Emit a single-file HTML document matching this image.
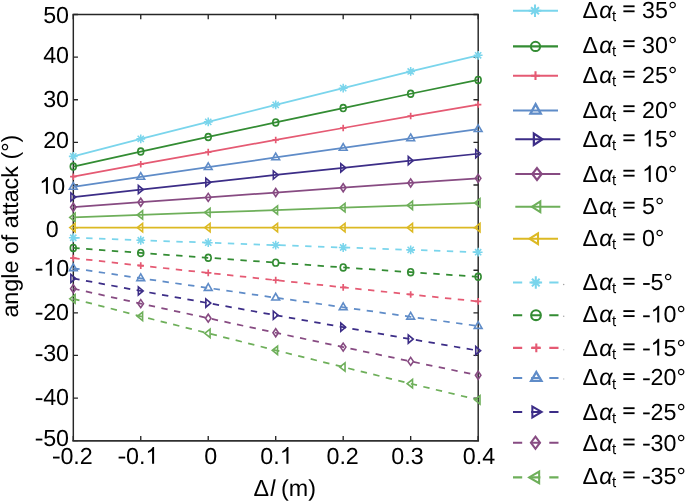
<!DOCTYPE html>
<html><head><meta charset="utf-8"><title>angle of attack</title>
<style>
html,body{margin:0;padding:0;background:#fff;}
body{width:685px;height:502px;overflow:hidden;font-family:"Liberation Sans",sans-serif;}
svg{display:block;will-change:transform;font-kerning:none;text-rendering:geometricPrecision;}
text{font-kerning:none;}
</style></head><body>
<svg width="685" height="502" viewBox="0 0 685 502">
<rect width="685" height="502" fill="#ffffff"/>
<path d="M73.27 440.68V435.98M73.27 14.48V19.18M140.75 440.68V435.98M140.75 14.48V19.18M208.23 440.68V435.98M208.23 14.48V19.18M275.71 440.68V435.98M275.71 14.48V19.18M343.19 440.68V435.98M343.19 14.48V19.18M410.67 440.68V435.98M410.67 14.48V19.18M478.15 440.68V435.98M478.15 14.48V19.18M73.27 14.48H77.97M478.15 14.48H473.45M73.27 57.1H77.97M478.15 57.1H473.45M73.27 99.72H77.97M478.15 99.72H473.45M73.27 142.34H77.97M478.15 142.34H473.45M73.27 184.96H77.97M478.15 184.96H473.45M73.27 227.58H77.97M478.15 227.58H473.45M73.27 270.2H77.97M478.15 270.2H473.45M73.27 312.82H77.97M478.15 312.82H473.45M73.27 355.44H77.97M478.15 355.44H473.45M73.27 398.06H77.97M478.15 398.06H473.45M73.27 440.68H77.97M478.15 440.68H473.45" stroke="#262626" stroke-width="1.35" fill="none"/>
<path d="M73.27 14.55H478.15" stroke="#262626" stroke-width="1.5" fill="none" stroke-linecap="square"/>
<path d="M73.27 440.85H478.15" stroke="#303030" stroke-width="1.8" fill="none" stroke-linecap="square"/>
<path d="M73.32 14.55V440.85" stroke="#262626" stroke-width="1.45" fill="none"/>
<path d="M478.2 14.55V440.85" stroke="#262626" stroke-width="1.45" fill="none"/>
<path d="M73.27 156.35L140.75 138.85L208.23 121.88L275.71 104.87L343.19 88.15L410.67 71.46L478.15 55.3" stroke="#7ad5ec" stroke-width="1.75" fill="none"/>
<path d="M68.87 156.35H77.67M73.27 151.95V160.75M70.17 153.25L76.37 159.45M70.17 159.45L76.37 153.25" stroke="#7ad5ec" stroke-width="1.55" fill="none"/>
<path d="M136.35 138.85H145.15M140.75 134.45V143.25M137.65 135.75L143.85 141.95M137.65 141.95L143.85 135.75" stroke="#7ad5ec" stroke-width="1.55" fill="none"/>
<path d="M203.83 121.88H212.63M208.23 117.48V126.28M205.13 118.78L211.33 124.98M205.13 124.98L211.33 118.78" stroke="#7ad5ec" stroke-width="1.55" fill="none"/>
<path d="M271.31 104.87H280.11M275.71 100.47V109.27M272.61 101.77L278.81 107.97M272.61 107.97L278.81 101.77" stroke="#7ad5ec" stroke-width="1.55" fill="none"/>
<path d="M338.79 88.15H347.59M343.19 83.75V92.55M340.09 85.05L346.29 91.25M340.09 91.25L346.29 85.05" stroke="#7ad5ec" stroke-width="1.55" fill="none"/>
<path d="M406.27 71.46H415.07M410.67 67.06V75.86M407.57 68.36L413.77 74.56M407.57 74.56L413.77 68.36" stroke="#7ad5ec" stroke-width="1.55" fill="none"/>
<path d="M473.75 55.3H482.55M478.15 50.9V59.7M475.05 52.2L481.25 58.4M475.05 58.4L481.25 52.2" stroke="#7ad5ec" stroke-width="1.55" fill="none"/>
<path d="M73.27 166.53L140.75 151.53L208.23 136.98L275.71 122.4L343.19 108.07L410.67 93.76L478.15 79.91" stroke="#338c33" stroke-width="1.75" fill="none"/>
<ellipse cx="73.27" cy="166.53" rx="2.95" ry="3.4" stroke="#338c33" stroke-width="1.65" fill="none"/>
<ellipse cx="140.75" cy="151.53" rx="2.95" ry="3.4" stroke="#338c33" stroke-width="1.65" fill="none"/>
<ellipse cx="208.23" cy="136.98" rx="2.95" ry="3.4" stroke="#338c33" stroke-width="1.65" fill="none"/>
<ellipse cx="275.71" cy="122.4" rx="2.95" ry="3.4" stroke="#338c33" stroke-width="1.65" fill="none"/>
<ellipse cx="343.19" cy="108.07" rx="2.95" ry="3.4" stroke="#338c33" stroke-width="1.65" fill="none"/>
<ellipse cx="410.67" cy="93.76" rx="2.95" ry="3.4" stroke="#338c33" stroke-width="1.65" fill="none"/>
<ellipse cx="478.15" cy="79.91" rx="2.95" ry="3.4" stroke="#338c33" stroke-width="1.65" fill="none"/>
<path d="M73.27 176.7L140.75 164.2L208.23 152.08L275.71 139.93L343.19 127.99L410.67 116.06L478.15 104.53" stroke="#e55a73" stroke-width="1.75" fill="none"/>
<path d="M70.07 176.7H76.47M73.27 173.4V180" stroke="#e55a73" stroke-width="1.7" fill="none"/>
<path d="M137.55 164.2H143.95M140.75 160.9V167.5" stroke="#e55a73" stroke-width="1.7" fill="none"/>
<path d="M205.03 152.08H211.43M208.23 148.78V155.38" stroke="#e55a73" stroke-width="1.7" fill="none"/>
<path d="M272.51 139.93H278.91M275.71 136.63V143.23" stroke="#e55a73" stroke-width="1.7" fill="none"/>
<path d="M339.99 127.99H346.39M343.19 124.69V131.29" stroke="#e55a73" stroke-width="1.7" fill="none"/>
<path d="M407.47 116.06H413.87M410.67 112.76V119.36" stroke="#e55a73" stroke-width="1.7" fill="none"/>
<path d="M474.95 104.53H481.35M478.15 101.23V107.83" stroke="#e55a73" stroke-width="1.7" fill="none"/>
<path d="M73.27 186.88L140.75 176.88L208.23 167.18L275.71 157.46L343.19 147.91L410.67 138.37L478.15 129.14" stroke="#5f8cc8" stroke-width="1.75" fill="none"/>
<polygon points="73.27,182.53 77.17,189.23 69.37,189.23" stroke="#5f8cc8" stroke-width="1.6" fill="none" stroke-miterlimit="10"/>
<polygon points="140.75,172.53 144.65,179.23 136.85,179.23" stroke="#5f8cc8" stroke-width="1.6" fill="none" stroke-miterlimit="10"/>
<polygon points="208.23,162.83 212.13,169.53 204.33,169.53" stroke="#5f8cc8" stroke-width="1.6" fill="none" stroke-miterlimit="10"/>
<polygon points="275.71,153.11 279.61,159.81 271.81,159.81" stroke="#5f8cc8" stroke-width="1.6" fill="none" stroke-miterlimit="10"/>
<polygon points="343.19,143.56 347.09,150.26 339.29,150.26" stroke="#5f8cc8" stroke-width="1.6" fill="none" stroke-miterlimit="10"/>
<polygon points="410.67,134.02 414.57,140.72 406.77,140.72" stroke="#5f8cc8" stroke-width="1.6" fill="none" stroke-miterlimit="10"/>
<polygon points="478.15,124.79 482.05,131.49 474.25,131.49" stroke="#5f8cc8" stroke-width="1.6" fill="none" stroke-miterlimit="10"/>
<path d="M73.27 197.05L140.75 189.55L208.23 182.28L275.71 174.99L343.19 167.82L410.67 160.67L478.15 153.75" stroke="#3c2d87" stroke-width="1.75" fill="none"/>
<polygon points="75.77,197.05 70.87,201.15 70.87,192.95" stroke="#3c2d87" stroke-width="1.6" fill="none" stroke-miterlimit="10"/>
<polygon points="143.25,189.55 138.35,193.65 138.35,185.45" stroke="#3c2d87" stroke-width="1.6" fill="none" stroke-miterlimit="10"/>
<polygon points="210.73,182.28 205.83,186.38 205.83,178.18" stroke="#3c2d87" stroke-width="1.6" fill="none" stroke-miterlimit="10"/>
<polygon points="278.21,174.99 273.31,179.09 273.31,170.89" stroke="#3c2d87" stroke-width="1.6" fill="none" stroke-miterlimit="10"/>
<polygon points="345.69,167.82 340.79,171.92 340.79,163.72" stroke="#3c2d87" stroke-width="1.6" fill="none" stroke-miterlimit="10"/>
<polygon points="413.17,160.67 408.27,164.77 408.27,156.57" stroke="#3c2d87" stroke-width="1.6" fill="none" stroke-miterlimit="10"/>
<polygon points="480.65,153.75 475.75,157.85 475.75,149.65" stroke="#3c2d87" stroke-width="1.6" fill="none" stroke-miterlimit="10"/>
<path d="M73.27 207.23L140.75 202.23L208.23 197.38L275.71 192.52L343.19 187.74L410.67 182.97L478.15 178.36" stroke="#874b82" stroke-width="1.75" fill="none"/>
<polygon points="73.27,203.23 76.02,207.23 73.27,211.23 70.52,207.23" stroke="#874b82" stroke-width="1.6" fill="none" stroke-miterlimit="10"/>
<polygon points="140.75,198.23 143.5,202.23 140.75,206.23 138,202.23" stroke="#874b82" stroke-width="1.6" fill="none" stroke-miterlimit="10"/>
<polygon points="208.23,193.38 210.98,197.38 208.23,201.38 205.48,197.38" stroke="#874b82" stroke-width="1.6" fill="none" stroke-miterlimit="10"/>
<polygon points="275.71,188.52 278.46,192.52 275.71,196.52 272.96,192.52" stroke="#874b82" stroke-width="1.6" fill="none" stroke-miterlimit="10"/>
<polygon points="343.19,183.74 345.94,187.74 343.19,191.74 340.44,187.74" stroke="#874b82" stroke-width="1.6" fill="none" stroke-miterlimit="10"/>
<polygon points="410.67,178.97 413.42,182.97 410.67,186.97 407.92,182.97" stroke="#874b82" stroke-width="1.6" fill="none" stroke-miterlimit="10"/>
<polygon points="478.15,174.36 480.9,178.36 478.15,182.36 475.4,178.36" stroke="#874b82" stroke-width="1.6" fill="none" stroke-miterlimit="10"/>
<path d="M73.27 217.4L140.75 214.9L208.23 212.48L275.71 210.05L343.19 207.66L410.67 205.28L478.15 202.97" stroke="#6eaf5a" stroke-width="1.75" fill="none"/>
<polygon points="69.77,217.4 75.12,213.2 75.12,221.6" stroke="#6eaf5a" stroke-width="1.6" fill="none" stroke-miterlimit="10"/>
<polygon points="137.25,214.9 142.6,210.7 142.6,219.1" stroke="#6eaf5a" stroke-width="1.6" fill="none" stroke-miterlimit="10"/>
<polygon points="204.73,212.48 210.08,208.28 210.08,216.68" stroke="#6eaf5a" stroke-width="1.6" fill="none" stroke-miterlimit="10"/>
<polygon points="272.21,210.05 277.56,205.85 277.56,214.25" stroke="#6eaf5a" stroke-width="1.6" fill="none" stroke-miterlimit="10"/>
<polygon points="339.69,207.66 345.04,203.46 345.04,211.86" stroke="#6eaf5a" stroke-width="1.6" fill="none" stroke-miterlimit="10"/>
<polygon points="407.17,205.28 412.52,201.08 412.52,209.48" stroke="#6eaf5a" stroke-width="1.6" fill="none" stroke-miterlimit="10"/>
<polygon points="474.65,202.97 480,198.77 480,207.17" stroke="#6eaf5a" stroke-width="1.6" fill="none" stroke-miterlimit="10"/>
<path d="M73.27 227.58L140.75 227.58L208.23 227.58L275.71 227.58L343.19 227.58L410.67 227.58L478.15 227.58" stroke="#dcb923" stroke-width="1.75" fill="none"/>
<polygon points="69.77,227.58 75.12,223.38 75.12,231.78" stroke="#dcb923" stroke-width="1.6" fill="none" stroke-miterlimit="10"/>
<polygon points="137.25,227.58 142.6,223.38 142.6,231.78" stroke="#dcb923" stroke-width="1.6" fill="none" stroke-miterlimit="10"/>
<polygon points="204.73,227.58 210.08,223.38 210.08,231.78" stroke="#dcb923" stroke-width="1.6" fill="none" stroke-miterlimit="10"/>
<polygon points="272.21,227.58 277.56,223.38 277.56,231.78" stroke="#dcb923" stroke-width="1.6" fill="none" stroke-miterlimit="10"/>
<polygon points="339.69,227.58 345.04,223.38 345.04,231.78" stroke="#dcb923" stroke-width="1.6" fill="none" stroke-miterlimit="10"/>
<polygon points="407.17,227.58 412.52,223.38 412.52,231.78" stroke="#dcb923" stroke-width="1.6" fill="none" stroke-miterlimit="10"/>
<polygon points="474.65,227.58 480,223.38 480,231.78" stroke="#dcb923" stroke-width="1.6" fill="none" stroke-miterlimit="10"/>
<path d="M73.27 237.76L140.75 240.26L208.23 242.68L275.71 245.11L343.19 247.5L410.67 249.88L478.15 252.19" stroke="#7ad5ec" stroke-width="1.75" fill="none" stroke-dasharray="6.4 6.49"/>
<path d="M68.87 237.76H77.67M73.27 233.36V242.16M70.17 234.66L76.37 240.86M70.17 240.86L76.37 234.66" stroke="#7ad5ec" stroke-width="1.55" fill="none"/>
<path d="M136.35 240.26H145.15M140.75 235.86V244.66M137.65 237.16L143.85 243.36M137.65 243.36L143.85 237.16" stroke="#7ad5ec" stroke-width="1.55" fill="none"/>
<path d="M203.83 242.68H212.63M208.23 238.28V247.08M205.13 239.58L211.33 245.78M205.13 245.78L211.33 239.58" stroke="#7ad5ec" stroke-width="1.55" fill="none"/>
<path d="M271.31 245.11H280.11M275.71 240.71V249.51M272.61 242.01L278.81 248.21M272.61 248.21L278.81 242.01" stroke="#7ad5ec" stroke-width="1.55" fill="none"/>
<path d="M338.79 247.5H347.59M343.19 243.1V251.9M340.09 244.4L346.29 250.6M340.09 250.6L346.29 244.4" stroke="#7ad5ec" stroke-width="1.55" fill="none"/>
<path d="M406.27 249.88H415.07M410.67 245.48V254.28M407.57 246.78L413.77 252.98M407.57 252.98L413.77 246.78" stroke="#7ad5ec" stroke-width="1.55" fill="none"/>
<path d="M473.75 252.19H482.55M478.15 247.79V256.59M475.05 249.09L481.25 255.29M475.05 255.29L481.25 249.09" stroke="#7ad5ec" stroke-width="1.55" fill="none"/>
<path d="M73.27 247.93L140.75 252.93L208.23 257.78L275.71 262.64L343.19 267.42L410.67 272.19L478.15 276.8" stroke="#338c33" stroke-width="1.75" fill="none" stroke-dasharray="6.4 6.49"/>
<ellipse cx="73.27" cy="247.93" rx="2.95" ry="3.4" stroke="#338c33" stroke-width="1.65" fill="none"/>
<ellipse cx="140.75" cy="252.93" rx="2.95" ry="3.4" stroke="#338c33" stroke-width="1.65" fill="none"/>
<ellipse cx="208.23" cy="257.78" rx="2.95" ry="3.4" stroke="#338c33" stroke-width="1.65" fill="none"/>
<ellipse cx="275.71" cy="262.64" rx="2.95" ry="3.4" stroke="#338c33" stroke-width="1.65" fill="none"/>
<ellipse cx="343.19" cy="267.42" rx="2.95" ry="3.4" stroke="#338c33" stroke-width="1.65" fill="none"/>
<ellipse cx="410.67" cy="272.19" rx="2.95" ry="3.4" stroke="#338c33" stroke-width="1.65" fill="none"/>
<ellipse cx="478.15" cy="276.8" rx="2.95" ry="3.4" stroke="#338c33" stroke-width="1.65" fill="none"/>
<path d="M73.27 258.11L140.75 265.61L208.23 272.88L275.71 280.17L343.19 287.34L410.67 294.49L478.15 301.41" stroke="#e55a73" stroke-width="1.75" fill="none" stroke-dasharray="6.4 6.49"/>
<path d="M70.07 258.11H76.47M73.27 254.81V261.41" stroke="#e55a73" stroke-width="1.7" fill="none"/>
<path d="M137.55 265.61H143.95M140.75 262.31V268.91" stroke="#e55a73" stroke-width="1.7" fill="none"/>
<path d="M205.03 272.88H211.43M208.23 269.58V276.18" stroke="#e55a73" stroke-width="1.7" fill="none"/>
<path d="M272.51 280.17H278.91M275.71 276.87V283.47" stroke="#e55a73" stroke-width="1.7" fill="none"/>
<path d="M339.99 287.34H346.39M343.19 284.04V290.64" stroke="#e55a73" stroke-width="1.7" fill="none"/>
<path d="M407.47 294.49H413.87M410.67 291.19V297.79" stroke="#e55a73" stroke-width="1.7" fill="none"/>
<path d="M474.95 301.41H481.35M478.15 298.11V304.71" stroke="#e55a73" stroke-width="1.7" fill="none"/>
<path d="M73.27 268.28L140.75 278.28L208.23 287.98L275.71 297.7L343.19 307.25L410.67 316.79L478.15 326.02" stroke="#5f8cc8" stroke-width="1.75" fill="none" stroke-dasharray="6.4 6.49"/>
<polygon points="73.27,263.93 77.17,270.63 69.37,270.63" stroke="#5f8cc8" stroke-width="1.6" fill="none" stroke-miterlimit="10"/>
<polygon points="140.75,273.93 144.65,280.63 136.85,280.63" stroke="#5f8cc8" stroke-width="1.6" fill="none" stroke-miterlimit="10"/>
<polygon points="208.23,283.63 212.13,290.33 204.33,290.33" stroke="#5f8cc8" stroke-width="1.6" fill="none" stroke-miterlimit="10"/>
<polygon points="275.71,293.35 279.61,300.05 271.81,300.05" stroke="#5f8cc8" stroke-width="1.6" fill="none" stroke-miterlimit="10"/>
<polygon points="343.19,302.9 347.09,309.6 339.29,309.6" stroke="#5f8cc8" stroke-width="1.6" fill="none" stroke-miterlimit="10"/>
<polygon points="410.67,312.44 414.57,319.14 406.77,319.14" stroke="#5f8cc8" stroke-width="1.6" fill="none" stroke-miterlimit="10"/>
<polygon points="478.15,321.67 482.05,328.37 474.25,328.37" stroke="#5f8cc8" stroke-width="1.6" fill="none" stroke-miterlimit="10"/>
<path d="M73.27 278.46L140.75 290.96L208.23 303.08L275.71 315.23L343.19 327.17L410.67 339.1L478.15 350.63" stroke="#3c2d87" stroke-width="1.75" fill="none" stroke-dasharray="6.4 6.49"/>
<polygon points="75.77,278.46 70.87,282.56 70.87,274.36" stroke="#3c2d87" stroke-width="1.6" fill="none" stroke-miterlimit="10"/>
<polygon points="143.25,290.96 138.35,295.06 138.35,286.86" stroke="#3c2d87" stroke-width="1.6" fill="none" stroke-miterlimit="10"/>
<polygon points="210.73,303.08 205.83,307.18 205.83,298.98" stroke="#3c2d87" stroke-width="1.6" fill="none" stroke-miterlimit="10"/>
<polygon points="278.21,315.23 273.31,319.33 273.31,311.13" stroke="#3c2d87" stroke-width="1.6" fill="none" stroke-miterlimit="10"/>
<polygon points="345.69,327.17 340.79,331.27 340.79,323.07" stroke="#3c2d87" stroke-width="1.6" fill="none" stroke-miterlimit="10"/>
<polygon points="413.17,339.1 408.27,343.2 408.27,335" stroke="#3c2d87" stroke-width="1.6" fill="none" stroke-miterlimit="10"/>
<polygon points="480.65,350.63 475.75,354.73 475.75,346.53" stroke="#3c2d87" stroke-width="1.6" fill="none" stroke-miterlimit="10"/>
<path d="M73.27 288.63L140.75 303.63L208.23 318.18L275.71 332.76L343.19 347.09L410.67 361.4L478.15 375.25" stroke="#874b82" stroke-width="1.75" fill="none" stroke-dasharray="6.4 6.49"/>
<polygon points="73.27,284.63 76.02,288.63 73.27,292.63 70.52,288.63" stroke="#874b82" stroke-width="1.6" fill="none" stroke-miterlimit="10"/>
<polygon points="140.75,299.63 143.5,303.63 140.75,307.63 138,303.63" stroke="#874b82" stroke-width="1.6" fill="none" stroke-miterlimit="10"/>
<polygon points="208.23,314.18 210.98,318.18 208.23,322.18 205.48,318.18" stroke="#874b82" stroke-width="1.6" fill="none" stroke-miterlimit="10"/>
<polygon points="275.71,328.76 278.46,332.76 275.71,336.76 272.96,332.76" stroke="#874b82" stroke-width="1.6" fill="none" stroke-miterlimit="10"/>
<polygon points="343.19,343.09 345.94,347.09 343.19,351.09 340.44,347.09" stroke="#874b82" stroke-width="1.6" fill="none" stroke-miterlimit="10"/>
<polygon points="410.67,357.4 413.42,361.4 410.67,365.4 407.92,361.4" stroke="#874b82" stroke-width="1.6" fill="none" stroke-miterlimit="10"/>
<polygon points="478.15,371.25 480.9,375.25 478.15,379.25 475.4,375.25" stroke="#874b82" stroke-width="1.6" fill="none" stroke-miterlimit="10"/>
<path d="M73.27 298.81L140.75 316.31L208.23 333.28L275.71 350.29L343.19 367.01L410.67 383.7L478.15 399.86" stroke="#6eaf5a" stroke-width="1.75" fill="none" stroke-dasharray="6.4 6.49"/>
<polygon points="69.77,298.81 75.12,294.61 75.12,303.01" stroke="#6eaf5a" stroke-width="1.6" fill="none" stroke-miterlimit="10"/>
<polygon points="137.25,316.31 142.6,312.11 142.6,320.51" stroke="#6eaf5a" stroke-width="1.6" fill="none" stroke-miterlimit="10"/>
<polygon points="204.73,333.28 210.08,329.08 210.08,337.48" stroke="#6eaf5a" stroke-width="1.6" fill="none" stroke-miterlimit="10"/>
<polygon points="272.21,350.29 277.56,346.09 277.56,354.49" stroke="#6eaf5a" stroke-width="1.6" fill="none" stroke-miterlimit="10"/>
<polygon points="339.69,367.01 345.04,362.81 345.04,371.21" stroke="#6eaf5a" stroke-width="1.6" fill="none" stroke-miterlimit="10"/>
<polygon points="407.17,383.7 412.52,379.5 412.52,387.9" stroke="#6eaf5a" stroke-width="1.6" fill="none" stroke-miterlimit="10"/>
<polygon points="474.65,399.86 480,395.66 480,404.06" stroke="#6eaf5a" stroke-width="1.6" fill="none" stroke-miterlimit="10"/>
<g font-family="Liberation Sans, sans-serif" fill="#000">
<text x="43.17" y="23.1" font-size="23.3">50</text>
<text x="43.17" y="62.9" font-size="23.3">40</text>
<text x="43.17" y="106.9" font-size="23.3">30</text>
<text x="43.17" y="148.4" font-size="23.3">20</text>
<path d="M763 0H583V1147Q518 1085 412.5 1023Q307 961 223 930V1104Q374 1175 487 1276Q600 1377 647 1472H763Z" transform="translate(39.27 193.8) scale(0.011377 -0.011377)"/>
<text x="52.23" y="193.8" font-size="23.3">0</text>
<text x="45.73" y="237.3" font-size="23.3">0</text>
<rect x="35.77" y="268.75" width="6.6" height="1.85"/>
<path d="M763 0H583V1147Q518 1085 412.5 1023Q307 961 223 930V1104Q374 1175 487 1276Q600 1377 647 1472H763Z" transform="translate(43.17 275.8) scale(0.011377 -0.011377)"/>
<text x="56.13" y="275.8" font-size="23.3">0</text>
<rect x="35.77" y="312.75" width="6.6" height="1.85"/>
<text x="43.17" y="319.8" font-size="23.3">20</text>
<rect x="35.77" y="354.25" width="6.6" height="1.85"/>
<text x="43.17" y="361.3" font-size="23.3">30</text>
<rect x="35.77" y="398.25" width="6.6" height="1.85"/>
<text x="43.17" y="405.3" font-size="23.3">40</text>
<rect x="35.77" y="438.65" width="6.6" height="1.85"/>
<text x="43.17" y="445.7" font-size="23.3">50</text>
<rect x="53" y="456.65" width="6.6" height="1.85"/>
<text x="60.4" y="463.7" font-size="23.3">0.2</text>
<rect x="118.6" y="456.65" width="6.6" height="1.85"/>
<text x="126" y="463.7" font-size="23.3">0.</text>
<path d="M763 0H583V1147Q518 1085 412.5 1023Q307 961 223 930V1104Q374 1175 487 1276Q600 1377 647 1472H763Z" transform="translate(145.43 463.7) scale(0.011377 -0.011377)"/>
<text x="204.15" y="463.7" font-size="23.3">0</text>
<text x="260.35" y="463.7" font-size="23.3">0.</text>
<path d="M763 0H583V1147Q518 1085 412.5 1023Q307 961 223 930V1104Q374 1175 487 1276Q600 1377 647 1472H763Z" transform="translate(279.78 463.7) scale(0.011377 -0.011377)"/>
<text x="326.45" y="463.7" font-size="23.3">0.2</text>
<text x="391.25" y="463.7" font-size="23.3">0.3</text>
<text x="462.75" y="463.7" font-size="23.3">0.4</text>
<text x="253.56" y="496.4" font-size="23.3">&#916;</text>
<text x="269.98" y="496.4" font-size="23.3" font-style="italic">l</text>
<text x="281.0" y="496.4" font-size="23.3">(m)</text>
<text transform="translate(18.0 226.2) rotate(-90)" font-size="23.3" text-anchor="middle">angle of attack (&#176;)</text>
<path d="M513 10.7H558" stroke="#7ad5ec" stroke-width="2.1" fill="none"/>
<path d="M528.7 10.7H541.3M535 4.4V17M531 7.2L539 14.2M531 14.2L539 7.2" stroke="#7ad5ec" stroke-width="2.05" fill="none"/>
<path d="M513 46.4H558" stroke="#338c33" stroke-width="2.1" fill="none"/>
<ellipse cx="535.5" cy="46.4" rx="4.6" ry="4.7" stroke="#338c33" stroke-width="2.0" fill="none"/>
<path d="M513 75.7H558" stroke="#e55a73" stroke-width="2.1" fill="none"/>
<path d="M531.1 75.7H539.9M535.5 71.3V80.1" stroke="#e55a73" stroke-width="2.1" fill="none"/>
<path d="M513 110.5H558" stroke="#5f8cc8" stroke-width="2.1" fill="none"/>
<polygon points="535.6,104.1 540.8,113.65 530.4,113.65" stroke="#5f8cc8" stroke-width="2.3" fill="none" stroke-miterlimit="10"/>
<path d="M515.3 139.3H560.3" stroke="#3c2d87" stroke-width="2.1" fill="none"/>
<polygon points="542.4,139.3 533.85,144.95 533.85,133.65" stroke="#3c2d87" stroke-width="2.25" fill="none" stroke-miterlimit="10"/>
<path d="M515.3 174H560.3" stroke="#874b82" stroke-width="2.1" fill="none"/>
<polygon points="537,168.1 541.7,174 537,179.9 532.3,174" stroke="#874b82" stroke-width="2.2" fill="none" stroke-miterlimit="10"/>
<path d="M515.3 206.8H560.3" stroke="#6eaf5a" stroke-width="2.1" fill="none"/>
<polygon points="531.9,206.8 540.3,201.4 540.3,212.2" stroke="#6eaf5a" stroke-width="2.1" fill="none" stroke-miterlimit="10"/>
<path d="M513 238.7H558" stroke="#dcb923" stroke-width="2.1" fill="none"/>
<polygon points="529.6,238.7 538,233.3 538,244.1" stroke="#dcb923" stroke-width="2.1" fill="none" stroke-miterlimit="10"/>
<path d="M513 282.55H522.2M531.15 282.55H540.35M549.3 282.55H558.5" stroke="#7ad5ec" stroke-width="2.1" fill="none"/>
<path d="M529.5 282.55H542.1M535.8 276.25V288.85M531.95 278.7L539.65 286.4M531.95 286.4L539.65 278.7" stroke="#7ad5ec" stroke-width="2.05" fill="none"/>
<path d="M513 315.2H522.2M531.15 315.2H540.35M549.3 315.2H558.5" stroke="#338c33" stroke-width="2.1" fill="none"/>
<ellipse cx="536" cy="315.2" rx="4.85" ry="4.95" stroke="#338c33" stroke-width="2.1" fill="none"/>
<path d="M513 347.85H522.2M531.15 347.85H540.35M549.3 347.85H558.5" stroke="#e55a73" stroke-width="2.1" fill="none"/>
<path d="M531.9 347.85H540.7M536.3 343.45V352.25" stroke="#e55a73" stroke-width="2.1" fill="none"/>
<path d="M513 378H522.2M531.15 378H540.35M549.3 378H558.5" stroke="#5f8cc8" stroke-width="2.1" fill="none"/>
<polygon points="536.3,372 541.5,380.95 531.1,380.95" stroke="#5f8cc8" stroke-width="2.3" fill="none" stroke-miterlimit="10"/>
<path d="M513 411.95H522.2M531.15 411.95H540.35M549.3 411.95H558.5" stroke="#3c2d87" stroke-width="2.1" fill="none"/>
<polygon points="541.7,411.95 532.35,417.4 532.35,406.5" stroke="#3c2d87" stroke-width="2.05" fill="none" stroke-miterlimit="10"/>
<path d="M513 442.7H522.2M531.15 442.7H540.35M549.3 442.7H558.5" stroke="#874b82" stroke-width="2.1" fill="none"/>
<polygon points="535.45,436.6 540,442.7 535.45,448.8 530.9,442.7" stroke="#874b82" stroke-width="2.05" fill="none" stroke-miterlimit="10"/>
<path d="M513 477.4H522.2M531.15 477.4H540.35M549.3 477.4H558.5" stroke="#6eaf5a" stroke-width="2.1" fill="none"/>
<polygon points="529.2,477.4 539.15,471.6 539.15,483.2" stroke="#6eaf5a" stroke-width="2.05" fill="none" stroke-miterlimit="10"/>
<circle cx="563.7" cy="284.4" r="0.75" fill="#555" fill-opacity="0.55"/>
<circle cx="563.7" cy="316.3" r="0.75" fill="#555" fill-opacity="0.5"/>
<circle cx="563.7" cy="349.7" r="0.75" fill="#555" fill-opacity="0.3"/>
<circle cx="563.7" cy="379" r="0.75" fill="#555" fill-opacity="0.3"/>
<text x="582.56" y="17.6" font-size="23.3">&#916;</text>
<text x="599.2" y="17.6" font-size="23.3" font-style="italic">&#945;</text>
<text x="611.9" y="20.7" font-size="15">t</text>
<rect x="623.38" y="5.38" width="11.2" height="1.85"/>
<rect x="623.38" y="10.38" width="11.2" height="1.85"/>
<text x="642.08" y="17.6" font-size="23.3">35&#176;</text>
<text x="582.56" y="52.5" font-size="23.3">&#916;</text>
<text x="599.2" y="52.5" font-size="23.3" font-style="italic">&#945;</text>
<text x="611.9" y="55.6" font-size="15">t</text>
<rect x="623.38" y="40.28" width="11.2" height="1.85"/>
<rect x="623.38" y="45.28" width="11.2" height="1.85"/>
<text x="642.08" y="52.5" font-size="23.3">30&#176;</text>
<text x="582.56" y="83" font-size="23.3">&#916;</text>
<text x="599.2" y="83" font-size="23.3" font-style="italic">&#945;</text>
<text x="611.9" y="86.1" font-size="15">t</text>
<rect x="623.38" y="70.78" width="11.2" height="1.85"/>
<rect x="623.38" y="75.78" width="11.2" height="1.85"/>
<text x="642.08" y="83" font-size="23.3">25&#176;</text>
<text x="582.56" y="117.5" font-size="23.3">&#916;</text>
<text x="599.2" y="117.5" font-size="23.3" font-style="italic">&#945;</text>
<text x="611.9" y="120.6" font-size="15">t</text>
<rect x="623.38" y="105.28" width="11.2" height="1.85"/>
<rect x="623.38" y="110.28" width="11.2" height="1.85"/>
<text x="642.08" y="117.5" font-size="23.3">20&#176;</text>
<text x="582.56" y="146.6" font-size="23.3">&#916;</text>
<text x="599.2" y="146.6" font-size="23.3" font-style="italic">&#945;</text>
<text x="611.9" y="149.7" font-size="15">t</text>
<rect x="623.38" y="134.37" width="11.2" height="1.85"/>
<rect x="623.38" y="139.37" width="11.2" height="1.85"/>
<path d="M763 0H583V1147Q518 1085 412.5 1023Q307 961 223 930V1104Q374 1175 487 1276Q600 1377 647 1472H763Z" transform="translate(642.08 146.6) scale(0.011377 -0.011377)"/>
<text x="655.04" y="146.6" font-size="23.3">5&#176;</text>
<text x="582.56" y="182" font-size="23.3">&#916;</text>
<text x="599.2" y="182" font-size="23.3" font-style="italic">&#945;</text>
<text x="611.9" y="185.1" font-size="15">t</text>
<rect x="623.38" y="169.77" width="11.2" height="1.85"/>
<rect x="623.38" y="174.77" width="11.2" height="1.85"/>
<path d="M763 0H583V1147Q518 1085 412.5 1023Q307 961 223 930V1104Q374 1175 487 1276Q600 1377 647 1472H763Z" transform="translate(642.08 182) scale(0.011377 -0.011377)"/>
<text x="655.04" y="182" font-size="23.3">0&#176;</text>
<text x="582.56" y="214" font-size="23.3">&#916;</text>
<text x="599.2" y="214" font-size="23.3" font-style="italic">&#945;</text>
<text x="611.9" y="217.1" font-size="15">t</text>
<rect x="623.38" y="201.77" width="11.2" height="1.85"/>
<rect x="623.38" y="206.77" width="11.2" height="1.85"/>
<text x="642.08" y="214" font-size="23.3">5&#176;</text>
<text x="582.56" y="245.7" font-size="23.3">&#916;</text>
<text x="599.2" y="245.7" font-size="23.3" font-style="italic">&#945;</text>
<text x="611.9" y="248.8" font-size="15">t</text>
<rect x="623.38" y="233.47" width="11.2" height="1.85"/>
<rect x="623.38" y="238.47" width="11.2" height="1.85"/>
<text x="642.08" y="245.7" font-size="23.3">0&#176;</text>
<text x="582.56" y="290.1" font-size="23.3">&#916;</text>
<text x="599.2" y="290.1" font-size="23.3" font-style="italic">&#945;</text>
<text x="611.9" y="293.2" font-size="15">t</text>
<rect x="623.38" y="277.88" width="11.2" height="1.85"/>
<rect x="623.38" y="282.88" width="11.2" height="1.85"/>
<rect x="643.14" y="283.05" width="6.6" height="1.85"/>
<text x="650.54" y="290.1" font-size="23.3">5&#176;</text>
<text x="582.56" y="322.4" font-size="23.3">&#916;</text>
<text x="599.2" y="322.4" font-size="23.3" font-style="italic">&#945;</text>
<text x="611.9" y="325.5" font-size="15">t</text>
<rect x="623.38" y="310.17" width="11.2" height="1.85"/>
<rect x="623.38" y="315.17" width="11.2" height="1.85"/>
<rect x="643.14" y="315.35" width="6.6" height="1.85"/>
<path d="M763 0H583V1147Q518 1085 412.5 1023Q307 961 223 930V1104Q374 1175 487 1276Q600 1377 647 1472H763Z" transform="translate(650.54 322.4) scale(0.011377 -0.011377)"/>
<text x="663.5" y="322.4" font-size="23.3">0&#176;</text>
<text x="582.56" y="355.6" font-size="23.3">&#916;</text>
<text x="599.2" y="355.6" font-size="23.3" font-style="italic">&#945;</text>
<text x="611.9" y="358.7" font-size="15">t</text>
<rect x="623.38" y="343.38" width="11.2" height="1.85"/>
<rect x="623.38" y="348.38" width="11.2" height="1.85"/>
<rect x="643.14" y="348.55" width="6.6" height="1.85"/>
<path d="M763 0H583V1147Q518 1085 412.5 1023Q307 961 223 930V1104Q374 1175 487 1276Q600 1377 647 1472H763Z" transform="translate(650.54 355.6) scale(0.011377 -0.011377)"/>
<text x="663.5" y="355.6" font-size="23.3">5&#176;</text>
<text x="582.56" y="385.4" font-size="23.3">&#916;</text>
<text x="599.2" y="385.4" font-size="23.3" font-style="italic">&#945;</text>
<text x="611.9" y="388.5" font-size="15">t</text>
<rect x="623.38" y="373.17" width="11.2" height="1.85"/>
<rect x="623.38" y="378.17" width="11.2" height="1.85"/>
<rect x="643.14" y="378.35" width="6.6" height="1.85"/>
<text x="650.54" y="385.4" font-size="23.3">20&#176;</text>
<text x="582.56" y="419.5" font-size="23.3">&#916;</text>
<text x="599.2" y="419.5" font-size="23.3" font-style="italic">&#945;</text>
<text x="611.9" y="422.6" font-size="15">t</text>
<rect x="623.38" y="407.27" width="11.2" height="1.85"/>
<rect x="623.38" y="412.27" width="11.2" height="1.85"/>
<rect x="643.14" y="412.45" width="6.6" height="1.85"/>
<text x="650.54" y="419.5" font-size="23.3">25&#176;</text>
<text x="582.56" y="450.8" font-size="23.3">&#916;</text>
<text x="599.2" y="450.8" font-size="23.3" font-style="italic">&#945;</text>
<text x="611.9" y="453.9" font-size="15">t</text>
<rect x="623.38" y="438.57" width="11.2" height="1.85"/>
<rect x="623.38" y="443.57" width="11.2" height="1.85"/>
<rect x="643.14" y="443.75" width="6.6" height="1.85"/>
<text x="650.54" y="450.8" font-size="23.3">30&#176;</text>
<text x="582.56" y="483.7" font-size="23.3">&#916;</text>
<text x="599.2" y="483.7" font-size="23.3" font-style="italic">&#945;</text>
<text x="611.9" y="486.8" font-size="15">t</text>
<rect x="623.38" y="471.47" width="11.2" height="1.85"/>
<rect x="623.38" y="476.47" width="11.2" height="1.85"/>
<rect x="643.14" y="476.65" width="6.6" height="1.85"/>
<text x="650.54" y="483.7" font-size="23.3">35&#176;</text>
</g>
</svg>
</body></html>
